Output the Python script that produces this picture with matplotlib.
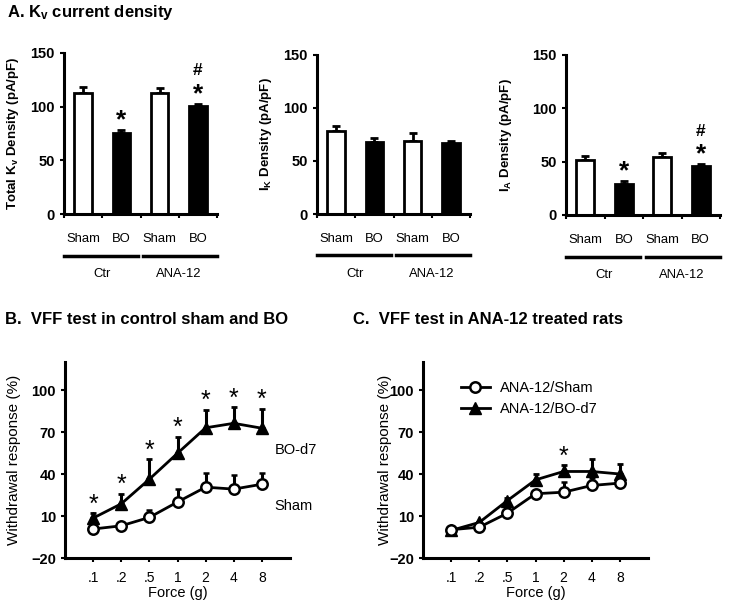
import matplotlib
matplotlib.use('Agg')
import matplotlib.pyplot as plt
from matplotlib.lines import Line2D
from matplotlib import font_manager
import numpy as np

plt.rcParams['font.family'] = ['Liberation Sans', 'DejaVu Sans']
plt.rcParams['mathtext.fontset'] = 'custom'
plt.rcParams['mathtext.rm'] = 'Liberation Sans'
plt.rcParams['mathtext.bf'] = 'Liberation Sans:bold'
plt.rcParams['mathtext.it'] = 'Liberation Sans:italic'

installed = {f.name for f in font_manager.fontManager.ttflist}
NARROW = 'Liberation Sans Narrow' if 'Liberation Sans Narrow' in installed else 'Liberation Sans'
NARROW_SCALE = 1.0 if NARROW == 'Liberation Sans Narrow' else 0.85

# ---------------- data ----------------
groups = ['Ctr', 'ANA-12']
conditions = ['Sham', 'BO', 'Sham', 'BO']
total_kv = [112.7, 75.3, 112.7, 100.8]
total_kv_err = [6.0, 3.0, 5.0, 2.0]
total_kv_sig = ['', '*', '', '#*']
ik = [78, 68, 69, 67]
ik_err = [5.0, 4.0, 7.0, 1.5]
ik_sig = ['', '', '', '']
ia = [51.5, 29.0, 54.0, 45.5]
ia_err = [3.5, 3.0, 4.5, 2.0]
ia_sig = ['', '*', '', '#*']

force_labels = ['.1', '.2', '.5', '1', '2', '4', '8']
sham_b = [0.7, 3.0, 9.0, 20.0, 30.6, 29.2, 32.7]
sham_b_err = [0, 0, 5.4, 9.4, 10.4, 10.2, 7.9]
bo_b = [8.5, 18.7, 36.3, 54.8, 73.0, 76.2, 72.7]
bo_b_err = [3.5, 7.3, 14.3, 11.9, 13.0, 11.4, 14.0]
bo_b_sig = ['*', '*', '*', '*', '*', '*', '*']

sham_c = [0.2, 2.0, 12.0, 25.9, 27.0, 31.8, 33.5]
sham_c_err = [0, 0, 0, 0, 7.0, 5.2, 5.0]
bo_c = [-0.3, 5.4, 21.0, 35.8, 41.8, 41.8, 40.0]
bo_c_err = [0, 0, 1.8, 4.2, 4.7, 8.8, 7.2]
bo_c_sig = ['', '', '', '', '*', '', '']

W, H = 729, 612
fig = plt.figure(figsize=(W / 100, H / 100), dpi=100)


def ax_px(l, t, r, b):
    return fig.add_axes([l / W, 1 - b / H, (r - l) / W, (b - t) / H])


SPINE = 2.2


def style_axes(ax):
    for s in ['top', 'right']:
        ax.spines[s].set_visible(False)
    for s in ['left', 'bottom']:
        ax.spines[s].set_linewidth(SPINE)
    ax.tick_params(axis='both', width=1.5, length=3, direction='out')


def bar_panel(ax, vals, errs, sigs, ylabel, labelpad):
    style_axes(ax)
    x = np.arange(len(vals)) + 0.5
    colors = ['white', 'black', 'white', 'black']
    ax.bar(x, vals, width=0.46, color=colors, edgecolor='black', linewidth=2, zorder=2)
    ax.errorbar(x, vals, yerr=[np.zeros(len(errs)), errs], fmt='none', ecolor='black',
                elinewidth=2, capsize=3, capthick=2, zorder=1)
    ax.set_xlim(0, 4)
    ax.set_ylim(0, 150)
    ax.set_yticks([0, 50, 100, 150])
    ax.set_xticks([0, 1, 2, 3, 4])
    ax.set_xticklabels([])
    ax.tick_params(axis='x', length=3)
    for lab in ax.get_yticklabels():
        lab.set_fontweight('bold')
        lab.set_fontsize(10.5)
    ax.set_ylabel(ylabel, fontsize=9.5, fontweight='bold', labelpad=labelpad)
    trans = ax.get_xaxis_transform()
    for xi, c in zip(x, conditions):
        ax.text(xi, -0.155, c, transform=trans, ha='center', va='center',
                fontsize=11 * NARROW_SCALE, family=[NARROW, 'DejaVu Sans'], clip_on=False)
    ax.plot([0, 1.93], [-0.26, -0.26], transform=trans, color='black', lw=2.5, clip_on=False)
    ax.plot([2.07, 4], [-0.26, -0.26], transform=trans, color='black', lw=2.5, clip_on=False)
    for gx, g in zip([1.0, 3.0], groups):
        ax.text(gx, -0.375, g, transform=trans, ha='center', va='center',
                fontsize=11 * NARROW_SCALE, family=[NARROW, 'DejaVu Sans'], clip_on=False)
    for xi, v, e, s in zip(x, vals, errs, sigs):
        if '*' in s:
            ax.annotate('*', (xi, v + e), xytext=(0, 2), textcoords='offset points',
                        ha='center', va='baseline', fontsize=19, fontweight='bold')
        if '#' in s:
            ax.annotate('#', (xi, v + e), xytext=(0, 20.5), textcoords='offset points',
                        ha='center', va='baseline', fontsize=12.5, fontweight='bold')


ax1 = ax_px(64, 53, 217, 214)
bar_panel(ax1, total_kv, total_kv_err, total_kv_sig, r'Total K$_\mathbf{v}$ Density (pA/pF)', 7)
ax2 = ax_px(317, 55, 470, 214)
bar_panel(ax2, ik, ik_err, ik_sig, r'I$_\mathbf{K}$ Density (pA/pF)', 7)
ax3 = ax_px(566, 55, 720, 215)
bar_panel(ax3, ia, ia_err, ia_sig, r'I$_\mathbf{A}$ Density (pA/pF)', 13)

fig.text(7 / W, 1 - 13 / H, r'A. K$_\mathbf{v}$ current density', fontsize=12,
         fontweight='bold', va='center', ha='left')


def line_panel(ax, s_vals, s_err, b_vals, b_err, sigs, ylabelpad):
    style_axes(ax)
    x = np.arange(len(s_vals))
    ax.errorbar(x, b_vals, yerr=[np.zeros(len(b_err)), b_err], fmt='-^', color='black',
                mfc='black', mec='black', ms=8, lw=2, elinewidth=2.2, capsize=2.5,
                capthick=2, zorder=3)
    ax.errorbar(x, s_vals, yerr=[np.zeros(len(s_err)), s_err], fmt='-o', color='black',
                mfc='white', mec='black', mew=1.8, ms=7.5, lw=2, elinewidth=2.2,
                capsize=2.5, capthick=2, zorder=4)
    ax.set_xlim(-1, 7)
    ax.set_ylim(-20, 120)
    ax.set_yticks([-20, 10, 40, 70, 100])
    ax.set_xticks(x)
    ax.set_xticklabels(force_labels, fontsize=10)
    ax.tick_params(axis='x', pad=6)
    for lab in ax.get_yticklabels():
        lab.set_fontweight('bold')
        lab.set_fontsize(10.5)
    ax.set_xlabel('Force (g)', fontsize=10.5, labelpad=1)
    ax.set_ylabel('Withdrawal response (%)', fontsize=11, labelpad=ylabelpad)
    for xi, v, e, s in zip(x, b_vals, b_err, sigs):
        if s:
            ax.annotate(s, (xi, v + e), xytext=(0, 1), textcoords='offset points',
                        ha='center', va='baseline', fontsize=18)
    return ax


axB = ax_px(65, 362, 290, 558)
line_panel(axB, sham_b, sham_b_err, bo_b, bo_b_err, bo_b_sig, 7)
axB.text(6.45, 57, 'BO-d7', fontsize=10.5, ha='left', va='center')
axB.text(6.45, 17, 'Sham', fontsize=10.5, ha='left', va='center')

axC = ax_px(423, 362, 648, 558)
line_panel(axC, sham_c, sham_c_err, bo_c, bo_c_err, bo_c_sig, -2)
leg_handles = [
    Line2D([], [], color='black', lw=2, marker='o', mfc='white', mec='black', mew=1.8, ms=7.5),
    Line2D([], [], color='black', lw=2, marker='^', mfc='black', mec='black', ms=8),
]
axC.legend(leg_handles, ['ANA-12/Sham', 'ANA-12/BO-d7'], loc='upper left',
           bbox_to_anchor=(0.11, 0.97), frameon=False, fontsize=10.5, handlelength=2.0,
           handletextpad=0.7, labelspacing=0.5)

fig.text(5 / W, 1 - 320 / H, 'B.  VFF test in control sham and BO', fontsize=12,
         fontweight='bold', va='center', ha='left')
fig.text(353 / W, 1 - 320 / H, 'C.  VFF test in ANA-12 treated rats', fontsize=12,
         fontweight='bold', va='center', ha='left')

fig.savefig('out.png', dpi=100)
